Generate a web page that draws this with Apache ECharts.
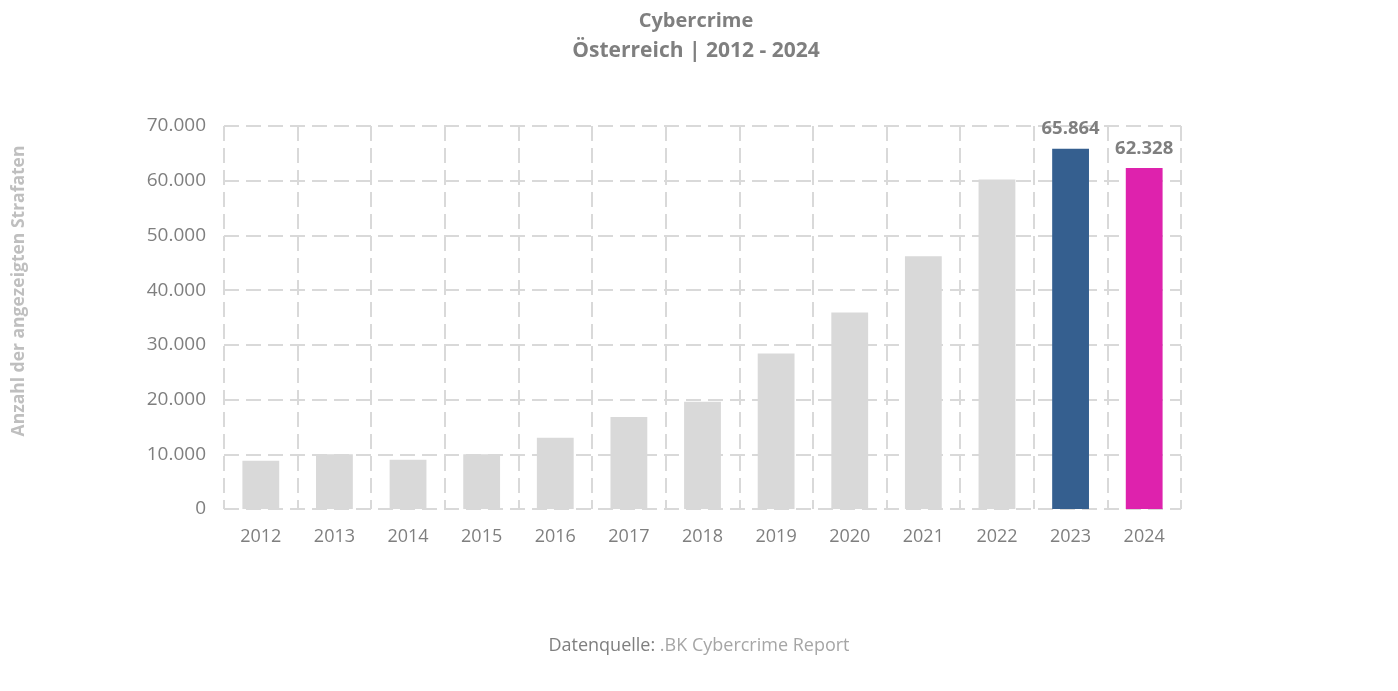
<!DOCTYPE html>
<html><head><meta charset="utf-8">
<script src="https://cdn.jsdelivr.net/npm/echarts@6/dist/echarts.min.js"></script>
<style>html,body{margin:0;padding:0;background:#fff}#c{width:1398px;height:691px}</style>
</head><body><div id="c"></div>
<script>
const years = ['2012','2013','2014','2015','2016','2017','2018','2019','2020','2021','2022','2023','2024'];
const values = [8800, 10000, 9000, 10000, 13000, 16800, 19600, 28400, 35900, 46200, 60200, 65864, 62328];
const barColors = ['#d9d9d9','#d9d9d9','#d9d9d9','#d9d9d9','#d9d9d9','#d9d9d9','#d9d9d9','#d9d9d9','#d9d9d9','#d9d9d9','#d9d9d9','#355f8f','#de22ad'];
const labeled = [false,false,false,false,false,false,false,false,false,false,false,true,true];
const yTicks = [0,10000,20000,30000,40000,50000,60000,70000];

const FONT = '"Open Sans", "Noto Sans", sans-serif';
const fmt = v => String(v).replace(/\B(?=(\d{3})+(?!\d))/g, '.');
const gridLine = {show:true, lineStyle:{color:'#d9d9d9', width:2, type:[15,7]}};

const chart = echarts.init(document.getElementById('c'));
chart.setOption({
  animation:false,
  title:[
    {text:'Cybercrime', left:691, top:6, textAlign:'center',
     textStyle:{fontFamily:FONT, fontSize:20, fontWeight:'bold', color:'#7f7f7f'}},
    {text:'Österreich | 2012 - 2024', left:691, top:36, textAlign:'center',
     textStyle:{fontFamily:FONT, fontSize:21, fontWeight:'bold', color:'#7f7f7f'}}
  ],
  graphic:[
    {type:'text', left:'center', top:637,
     style:{rich:{a:{fill:'#7f7f7f', fontSize:18, fontFamily:FONT}, b:{fill:'#a6a6a6', fontSize:18, fontFamily:FONT}},
            text:'{a|Datenquelle: }{b|.BK Cybercrime Report}'}},
    {type:'text', x:19, y:291, rotation:Math.PI/2,
     style:{text:'Anzahl der angezeigten Strafaten', fill:'#bfbfbf', fontSize:17.5, fontWeight:'bold', fontFamily:FONT,
            align:'center', verticalAlign:'middle'}}
  ],
  grid:{left:224, right:217, top:126, bottom:182, containLabel:false},
  xAxis:{type:'category', data:years, boundaryGap:true,
    axisLine:{show:false}, axisTick:{show:false},
    splitLine:Object.assign({interval:0}, gridLine),
    axisLabel:{color:'#7f7f7f', fontSize:18, fontFamily:FONT, margin:19, interval:0}},
  yAxis:{type:'value', min:yTicks[0], max:yTicks[yTicks.length-1], interval:10000,
    axisLine:{show:false}, axisTick:{show:false},
    splitLine:gridLine,
    axisLabel:{color:'#7f7f7f', fontSize:19, fontFamily:FONT, margin:18, formatter:v=>fmt(v)}},
  series:[{
    type:'bar', barWidth:'50%',
    data: values.map((v,i)=>({value:v, itemStyle:{color:barColors[i]},
      label:{show:labeled[i], position:'top', distance:10, formatter:p=>fmt(p.value),
             color:'#7f7f7f', fontSize:18.5, fontWeight:'bold', fontFamily:FONT}}))
  }]
});
</script></body></html>
